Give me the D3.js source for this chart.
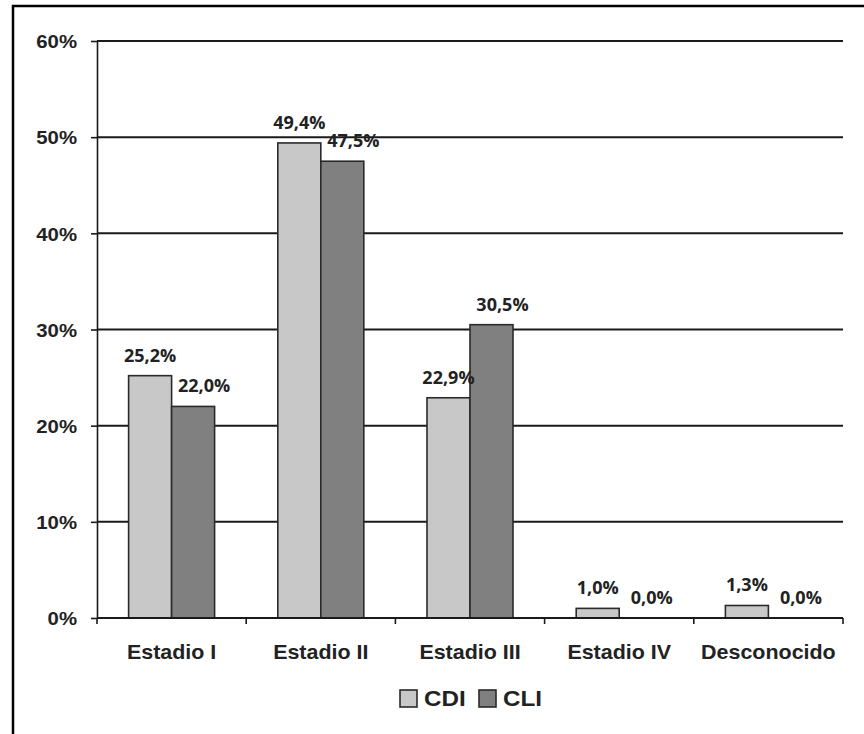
<!DOCTYPE html>
<html>
<head>
<meta charset="utf-8">
<script src="https://cdn.jsdelivr.net/npm/d3@7"></script>
<style>
  html, body { margin: 0; padding: 0; background: #fff; }
  svg { display: block; }
</style>
</head>
<body>
<svg id="chart" width="864" height="734"></svg>
<script>
const categories = ["Estadio I", "Estadio II", "Estadio III", "Estadio IV", "Desconocido"];
const seriesNames = ["CDI", "CLI"];
const cdiValues = [25.2, 49.4, 22.9, 1.0, 1.3];
const cliValues = [22.0, 47.5, 30.5, 0.0, 0.0];
const yTicks = [0, 10, 20, 30, 40, 50, 60];
const colors = ["#c8c8c8", "#808080"];

(function () {
const seriesValues = [cdiValues, cliValues];
const svg = d3.select("#chart");
const W = 864, H = 734;
const mLeft = 97, mRight = 843, mTop = 41, mBottom = 618;
const SX = 1.1; // horizontal stretch of the original picture
const labelShift = [0, 11]; // CLI labels sit a bit to the right

// frame
svg.append("rect").attr("x", 13).attr("y", 6).attr("width", W + 20).attr("height", H + 20)
  .attr("fill", "none").attr("stroke", "#000").attr("stroke-width", 2.5);

const y = d3.scaleLinear().domain([0, 60]).range([mBottom, mTop]);
const x0 = d3.scaleBand().domain(categories).range([mLeft, mRight]).paddingInner(0).paddingOuter(0);
const x1 = d3.scaleBand().domain(seriesNames).range([0, x0.bandwidth()]).paddingInner(0).paddingOuter(0.735);

// gridlines
svg.append("g").selectAll("line").data(yTicks.filter(t => t > 0)).join("line")
  .attr("x1", mLeft).attr("x2", mRight)
  .attr("y1", d => y(d)).attr("y2", d => y(d))
  .attr("stroke", "#1a1a1a").attr("stroke-width", 2);

// y axis
const yAxis = svg.append("g").attr("transform", `translate(${mLeft},0)`)
  .call(d3.axisLeft(y).tickValues(yTicks).tickSizeInner(6).tickSizeOuter(0).tickFormat(d => d + "%"));
yAxis.select(".domain").attr("stroke", "#1a1a1a").attr("stroke-width", 1.6);
yAxis.selectAll(".tick line").attr("stroke", "#1a1a1a").attr("stroke-width", 1.6);
yAxis.selectAll(".tick text")
  .attr("x", -20 / SX).attr("dy", "0.36em")
  .attr("transform", `scale(${SX},1)`)
  .attr("font-family", "Liberation Sans, Arial, sans-serif")
  .attr("font-weight", "bold").attr("font-size", 18.5).attr("fill", "#222");

// bars
const groups = svg.append("g").selectAll("g").data(categories).join("g")
  .attr("transform", d => `translate(${x0(d)},0)`);
groups.selectAll("rect").data((c, i) => seriesNames.map((s, k) => ({ s, k, v: seriesValues[k][i] })))
  .join("rect")
  .attr("x", d => x1(d.s)).attr("width", x1.bandwidth())
  .attr("y", d => y(d.v)).attr("height", d => y(0) - y(d.v))
  .attr("fill", d => colors[d.k])
  .attr("stroke", "#2a2a2a").attr("stroke-width", 1.6);

// value labels
groups.selectAll("text").data((c, i) => seriesNames.map((s, k) => ({ s, k, v: seriesValues[k][i] })))
  .join("text")
  .attr("x", d => x1(d.s) + x1.bandwidth() / 2 + labelShift[d.k])
  .attr("y", d => y(d.v) - 14)
  .attr("text-anchor", "middle")
  .attr("font-family", "Open Sans, sans-serif")
  .attr("font-weight", "bold").attr("font-size", 18).attr("fill", "#222")
  .text(d => d.v.toFixed(1).replace(".", ",") + "%");

// x axis
const xAxisG = svg.append("g");
xAxisG.append("line").attr("x1", mLeft).attr("x2", mRight).attr("y1", y(0)).attr("y2", y(0))
  .attr("stroke", "#1a1a1a").attr("stroke-width", 1.8);
const bounds = categories.map(c => x0(c)).concat([x0(categories[categories.length - 1]) + x0.bandwidth()]);
xAxisG.selectAll("line.tk").data(bounds).join("line").attr("class", "tk")
  .attr("x1", d => d).attr("x2", d => d).attr("y1", y(0)).attr("y2", y(0) + 6)
  .attr("stroke", "#1a1a1a").attr("stroke-width", 1.6);
xAxisG.selectAll("g.lab").data(categories).join("g").attr("class", "lab")
  .attr("transform", d => `translate(${x0(d) + x0.bandwidth() / 2},659) scale(${SX},1)`)
  .append("text").attr("text-anchor", "middle")
  .attr("font-family", "Liberation Sans, Arial, sans-serif")
  .attr("font-weight", "bold").attr("font-size", 19.5).attr("fill", "#222")
  .text(d => d);

// legend
const legendX = [400, 479];
const leg = svg.append("g").selectAll("g").data(seriesNames).join("g")
  .attr("transform", (d, i) => `translate(${legendX[i]},690)`);
leg.append("rect").attr("width", 17).attr("height", 17)
  .attr("fill", (d, i) => colors[i]).attr("stroke", "#2a2a2a").attr("stroke-width", 1.6);
leg.append("text").attr("transform", `translate(24,16) scale(${SX},1)`)
  .attr("font-family", "Liberation Sans, Arial, sans-serif")
  .attr("font-weight", "bold").attr("font-size", 22).attr("fill", "#222")
  .text(d => d);
})();
</script>
</body>
</html>
